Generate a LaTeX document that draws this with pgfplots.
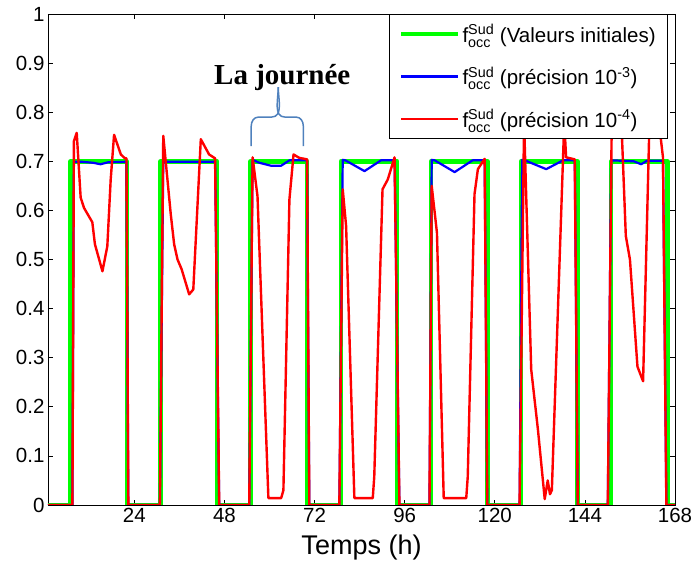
\documentclass[border=0pt]{standalone}
\usepackage{fontspec}
\setmainfont{Liberation Sans}
\newfontfamily\serifbold{Liberation Serif}
\usepackage{amsmath}
\usepackage{pgfplots}
\pgfplotsset{compat=1.18}
\definecolor{bracec}{RGB}{79,129,189}
\definecolor{mgreen}{RGB}{0,255,0}
\definecolor{mblue}{RGB}{0,0,255}
\definecolor{mred}{RGB}{255,0,0}
\begin{document}
\begin{tikzpicture}
\useasboundingbox (-48pt,-65pt) rectangle (646pt,505pt);
\begin{axis}[
  scale only axis, width=627pt, height=491pt,
  xmin=1, xmax=168, ymin=0, ymax=1,
  xtick={24,48,72,96,120,144,168},
  ytick={0,0.1,0.2,0.3,0.4,0.5,0.6,0.7,0.8,0.9,1},
  yticklabel style={/pgf/number format/fixed,/pgf/number format/precision=1},
  /pgf/number format/assume math mode=true,
  tick label style={font=\fontsize{20.5}{24}\selectfont, black},
  xlabel={Temps (h)},
  every axis x label/.style={at={(axis description cs:0.5,0)}, anchor=center, yshift=-43pt, font=\fontsize{27}{32}\selectfont},
  tick align=inside, major tick length=5pt,
  axis line style={line width=0.8pt},
  every tick/.style={black, line width=0.6pt},
  legend cell align=left,
  legend image code/.code={\draw[#1] (0pt,0pt) -- (57pt,0pt);},
  legend style={at={(0.989,1)}, anchor=north east, draw=black, line width=0.9pt,
    font=\fontsize{20.5}{24}\selectfont, fill=white, inner xsep=10pt, inner ysep=8pt,
    row sep=19pt},
]
\addplot[mgreen, line width=4.5pt, line join=round] coordinates {
(1,0)(7,0)(7,0.7)(22,0.7)(22,0)(31,0)(31,0.7)(46,0.7)(46,0)
(55,0)(55,0.7)(70,0.7)(70,0)(79,0)(79,0.7)(94,0.7)(94,0)
(103,0)(103,0.7)(118,0.7)(118,0)(127,0)(127,0.7)(142,0.7)(142,0)
(151,0)(151,0.7)(166,0.7)(166,0)(168,0)};
\addlegendentry{f$^{\text{Sud}}_{\text{occ}}$ (Valeurs initiales)}
\addplot[mblue, line width=2.2pt, line join=round] coordinates {
(1,0)(7.5,0)(7.9,0.699)(10,0.699)(13,0.697)(15,0.694)(17,0.698)(21.9,0.699)(22.4,0)
(30.8,0)(31.7,0.699)(45.5,0.699)(46.6,0)
(54.6,0)(55.5,0.703)(57.3,0.697)(60.4,0.691)(63.1,0.691)(65.3,0.702)(70,0.702)(70.6,0)
(78.6,0)(79.5,0.703)(80.2,0.702)(85.3,0.680)(89.7,0.702)(93.3,0.702)(94.6,0)
(102.6,0)(103.2,0.703)(104,0.702)(109.3,0.678)(114.1,0.702)(117.3,0.702)(118,0)
(126.6,0)(127.3,0.703)(128,0.702)(133.7,0.684)(138.2,0.702)(141.3,0.702)(142.1,0)
(150.1,0)(151,0.702)(157,0.700)(159,0.694)(160.5,0.701)(164.8,0.701)(165.7,0)(168,0)};
\addlegendentry{f$^{\text{Sud}}_{\text{occ}}$ (précision 10$^{\text{-3}}$)}
\addplot[mred, line width=2.4pt, line join=round] coordinates {
(1,0)(7.5,0)(7.9,0.741)(8.65,0.758)(9.7,0.626)(10.6,0.605)(12.8,0.576)(13.5,0.531)(15.5,0.476)(16.8,0.527)(17.7,0.663)(18.6,0.754)(20.4,0.714)(21.5,0.706)(21.9,0.706)(22.4,0)
(30.8,0)(31.7,0.752)(33.7,0.592)(34.6,0.531)(35.5,0.5)(36.6,0.48)(38.6,0.429)(39.7,0.439)(41.7,0.745)(43.9,0.714)(45.5,0.706)(46.6,0)
(54.6,0)(55.5,0.708)(56.8,0.629)(59.7,0.014)(63.1,0.014)(63.7,0.03)(65.3,0.622)(66.4,0.714)(67.9,0.707)(70,0.704)(70.6,0)
(78.6,0)(79.5,0.643)(80.4,0.568)(82.6,0.014)(87.5,0.014)(87.9,0.058)(90.1,0.643)(91.5,0.663)(93.3,0.708)(94.6,0)
(102.6,0)(103.2,0.65)(104.6,0.554)(106.4,0.014)(112.4,0.014)(112.8,0.058)(114.6,0.633)(115.5,0.684)(117.3,0.705)(118,0)
(126.6,0)(127.8,0.78)(129.7,0.276)(131.5,0.153)(133.3,0.012)(134.1,0.05)(134.7,0.022)(135.2,0.03)(138.5,0.78)(139,0.708)(141.3,0.704)(142.1,0)
(150.1,0)(151.15,0.78)(153.8,0.765)(154.9,0.548)(156,0.5)(158,0.282)(159.5,0.252)(161.2,0.78)(163.7,0.78)(164.8,0.708)(165.7,0)(168,0)};
\addlegendentry{f$^{\text{Sud}}_{\text{occ}}$ (précision 10$^{\text{-4}}$)}
\node[font=\serifbold\bfseries\fontsize{29}{34}\selectfont] at (axis cs:63.4,0.871) {La journée};
\draw[bracec, line width=1.5pt] (axis cs:55.13,0.731) -- (axis cs:55.13,0.772) to[out=90,in=180] (axis cs:57,0.790) -- (axis cs:60.5,0.790) to[out=0,in=-90] (axis cs:62.33,0.851);
\draw[bracec, line width=1.5pt] (axis cs:69,0.731) -- (axis cs:69,0.772) to[out=90,in=0] (axis cs:67.13,0.790) -- (axis cs:64.16,0.790) to[out=180,in=-90] (axis cs:62.33,0.851);
\end{axis}
\end{tikzpicture}
\end{document}
